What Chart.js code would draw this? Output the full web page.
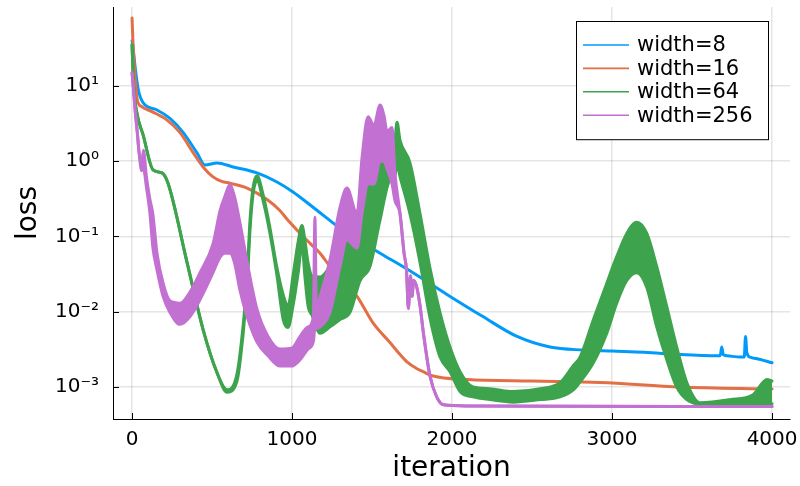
<!DOCTYPE html>
<html>
<head>
<meta charset="utf-8">
<script src="https://cdn.jsdelivr.net/npm/chart.js@4.4.1/dist/chart.umd.min.js"></script>
<style>
  html, body { margin: 0; padding: 0; background: #fff; }
  #wrap { width: 800px; height: 486px; }
</style>
</head>
<body>
<div id="wrap"><canvas id="chart" width="800" height="486"></canvas></div>
<script>
const xTicks = [0, 1000, 2000, 3000, 4000]
const yTicks = [1e-3, 1e-2, 1e-1, 1, 10]
const seriesLabels = ["width=8", "width=16", "width=64", "width=256"]

// width=8
const blueIter = [0, 8, 19, 39, 71, 156, 237, 320, 406, 456, 531, 631, 781, 906, 1006, 1131, 1343, 1550, 1756, 1968, 2190, 2406, 2612, 2819, 3000, 3200, 3425, 3660, 3676, 3685, 3695, 3720, 3800, 3826, 3834, 3842, 3860, 3900, 4000]
const blueVal = [40, 30, 18, 8.9, 5.9, 4.8, 3.7, 2.4, 1.29, 0.89, 0.95, 0.84, 0.70, 0.53, 0.39, 0.245, 0.11, 0.06, 0.033, 0.017, 0.0087, 0.0047, 0.0034, 0.0031, 0.0030, 0.0029, 0.0027, 0.0026, 0.0026, 0.0034, 0.0027, 0.0026, 0.0025, 0.0025, 0.0047, 0.0029, 0.0025, 0.0024, 0.0021]

// width=16
const redIter = [0, 8, 19, 33, 61, 131, 217, 300, 383, 444, 506, 560, 612, 719, 844, 925, 969, 1093, 1175, 1237, 1406, 1506, 1612, 1675, 1718, 1781, 1819, 1881, 2094, 2500, 2925, 3425, 4000]
const redVal = [80, 30, 13, 6.5, 5.3, 4.5, 3.55, 2.4, 1.29, 0.84, 0.62, 0.54, 0.51, 0.44, 0.31, 0.22, 0.17, 0.089, 0.06, 0.04, 0.016, 0.0071, 0.0039, 0.0027, 0.00216, 0.00175, 0.0016, 0.0014, 0.00126, 0.0012, 0.00115, 0.0010, 0.00094]

// width=64, upper and lower edge of the oscillating band
const greenIter = [0, 10, 30, 70, 131, 187, 225, 344, 444, 531, 594, 656, 694, 719, 737, 756, 781, 819, 862, 906, 944, 975, 1006, 1040, 1062, 1080, 1100, 1125, 1175, 1237, 1300, 1362, 1425, 1487, 1550, 1612, 1640, 1656, 1675, 1737, 1800, 1862, 1925, 1987, 2050, 2131, 2237, 2381, 2550, 2675, 2756, 2800, 2883, 2967, 3029, 3092, 3154, 3217, 3279, 3342, 3404, 3467, 3550, 3737, 3881, 3968, 4000]
const greenHi = [35, 10, 4.4, 2.2, 0.77, 0.70, 0.51, 0.045, 0.0058, 0.00155, 0.00092, 0.0015, 0.0065, 0.028, 0.16, 0.44, 0.64, 0.36, 0.13, 0.038, 0.017, 0.012, 0.03, 0.09, 0.14, 0.09, 0.045, 0.03, 0.029, 0.04, 0.072, 0.166, 0.245, 0.56, 0.95, 1.14, 1.6, 3.3, 1.9, 0.95, 0.2, 0.038, 0.0097, 0.0034, 0.0016, 0.001, 0.00095, 0.00087, 0.00095, 0.00114, 0.0019, 0.0025, 0.0078, 0.024, 0.054, 0.11, 0.155, 0.11, 0.04, 0.0117, 0.0034, 0.00115, 0.00062, 0.00068, 0.00079, 0.00126, 0.0012]
const greenLo = [35, 10, 4.4, 2.2, 0.77, 0.70, 0.51, 0.045, 0.0058, 0.00155, 0.00085, 0.0012, 0.005, 0.022, 0.12, 0.36, 0.55, 0.3, 0.11, 0.03, 0.008, 0.0062, 0.012, 0.035, 0.08, 0.03, 0.012, 0.009, 0.0052, 0.0063, 0.0079, 0.0098, 0.026, 0.04, 0.166, 0.56, 0.6, 0.9, 0.62, 0.2, 0.045, 0.0083, 0.0025, 0.0016, 0.00087, 0.00074, 0.00068, 0.00063, 0.00068, 0.00074, 0.00091, 0.00117, 0.0021, 0.0052, 0.013, 0.026, 0.033, 0.021, 0.0063, 0.0023, 0.001, 0.00068, 0.00058, 0.00055, 0.00055, 0.00057, 0.0006]

// width=256, upper and lower edge
const purpleIter = [0, 8, 19, 33, 44, 60, 71, 90, 112, 130, 156, 194, 237, 300, 360, 425, 506, 550, 580, 612, 640, 675, 720, 780, 850, 925, 1000, 1050, 1100, 1133, 1143, 1152, 1175, 1237, 1300, 1343, 1406, 1437, 1475, 1512, 1550, 1575, 1593, 1625, 1643, 1675, 1700, 1715, 1727, 1740, 1750, 1760, 1780, 1800, 1821, 1862, 1904, 1946, 2100, 4000]
const purpleHi = [15, 9.7, 4.8, 2.4, 1.3, 0.9, 1.4, 0.62, 0.31, 0.2, 0.06, 0.024, 0.014, 0.013, 0.018, 0.033, 0.08, 0.22, 0.34, 0.49, 0.34, 0.15, 0.045, 0.011, 0.0047, 0.0032, 0.0033, 0.0047, 0.0063, 0.0085, 0.18, 0.012, 0.016, 0.049, 0.245, 0.44, 0.2, 1.1, 3.9, 3.0, 5.6, 4.0, 2.5, 2.8, 0.7, 0.2, 0.06, 0.036, 0.011, 0.03, 0.016, 0.026, 0.021, 0.012, 0.0052, 0.0014, 0.00074, 0.00058, 0.00056, 0.00055]
const purpleLo = [15, 9.7, 4.8, 2.4, 1.3, 0.75, 0.8, 0.45, 0.2, 0.072, 0.036, 0.016, 0.0098, 0.0068, 0.0085, 0.0145, 0.033, 0.053, 0.06, 0.06, 0.045, 0.019, 0.0085, 0.004, 0.0026, 0.0019, 0.0019, 0.0023, 0.0032, 0.004, 0.006, 0.006, 0.0063, 0.0098, 0.04, 0.09, 0.07, 0.2, 0.5, 0.5, 1.0, 1.0, 0.8, 0.5, 0.3, 0.2, 0.06, 0.036, 0.011, 0.03, 0.016, 0.026, 0.021, 0.012, 0.0052, 0.0014, 0.00074, 0.00058, 0.00056, 0.00055]

const palette = ["#009af9", "#e26f46", "#3da44d", "#c271d2"]
const fontFamily = "'DejaVu Sans', sans-serif"

const points = (xs, ys) => xs.map((x, i) => ({ x: x, y: ys[i] }))

const supDigits = { "-": "\u207b", "0": "\u2070", "1": "\u00b9", "2": "\u00b2", "3": "\u00b3" }
const powLabel = v => "10" + String(Math.round(Math.log10(v))).split("").map(c => supDigits[c]).join("")

// small ticks pointing into the plot, like the reference
const innerTicks = {
  id: "innerTicks",
  beforeDatasetsDraw(chart) {
    const { ctx, chartArea: a, scales: { x, y } } = chart
    ctx.save()
    ctx.strokeStyle = "#000"
    ctx.lineWidth = 1
    ctx.beginPath()
    xTicks.forEach(v => {
      const px = Math.round(x.getPixelForValue(v)) + 0.5
      ctx.moveTo(px, a.bottom)
      ctx.lineTo(px, a.bottom - 6)
    })
    yTicks.forEach(v => {
      const py = Math.round(y.getPixelForValue(v)) + 0.5
      ctx.moveTo(a.left, py)
      ctx.lineTo(a.left + 6, py)
    })
    ctx.stroke()
    ctx.restore()
  }
}

// boxed legend in the top right corner
const boxLegend = {
  id: "boxLegend",
  afterDraw(chart) {
    const { ctx, chartArea: a } = chart
    const items = chart.data.datasets.filter(d => d.label)
    const left = a.right - 214
    const top = a.top + 14
    const w = 192
    const rowH = 23.4
    const h = 24 * 2 + rowH * (items.length - 1)
    ctx.save()
    ctx.fillStyle = "#fff"
    ctx.fillRect(left, top, w, h)
    ctx.strokeStyle = "#000"
    ctx.lineWidth = 1
    ctx.strokeRect(Math.round(left) + 0.5, Math.round(top) + 0.5, w, h)
    ctx.font = "21px " + fontFamily
    ctx.textBaseline = "middle"
    ctx.textAlign = "left"
    items.forEach((d, i) => {
      const cy = top + 24 + i * rowH
      ctx.strokeStyle = d.borderColor
      ctx.lineWidth = 1.6
      ctx.beginPath()
      ctx.moveTo(left + 7, cy)
      ctx.lineTo(left + 53, cy)
      ctx.stroke()
      ctx.fillStyle = "#000"
      ctx.fillText(d.label, left + 61, cy + 1)
    })
    ctx.restore()
  }
}

new Chart(document.getElementById("chart"), {
  type: "line",
  data: {
    datasets: [
      { label: seriesLabels[0], data: points(blueIter, blueVal), borderColor: palette[0], order: 4 },
      { label: seriesLabels[1], data: points(redIter, redVal), borderColor: palette[1], order: 3 },
      { label: seriesLabels[2], data: points(greenIter, greenHi), borderColor: palette[2], order: 2 },
      { label: "", data: points(greenIter, greenLo), borderColor: palette[2], backgroundColor: palette[2], fill: "-1", order: 2 },
      { label: seriesLabels[3], data: points(purpleIter, purpleHi), borderColor: palette[3], order: 1 },
      { label: "", data: points(purpleIter, purpleLo), borderColor: palette[3], backgroundColor: palette[3], fill: "-1", order: 1 }
    ]
  },
  options: {
    responsive: false,
    animation: false,
    devicePixelRatio: 1,
    layout: { padding: { top: 7, right: 10, left: 0, bottom: 0 } },
    elements: {
      point: { radius: 0 },
      line: { borderWidth: 3, cubicInterpolationMode: "monotone", borderCapStyle: "round", borderJoinStyle: "round", fill: false }
    },
    plugins: {
      legend: { display: false },
      tooltip: { enabled: false }
    },
    scales: {
      x: {
        type: "linear",
        min: -119,
        max: 4112,
        afterBuildTicks: s => { s.ticks = xTicks.map(v => ({ value: v })) },
        afterFit: s => {
          s.height = 67
          s.paddingLeft = 0
          s.paddingRight = 0
        },
        ticks: { color: "#000", font: { family: fontFamily, size: 20 }, padding: 9, maxRotation: 0, callback: v => String(v) },
        grid: { color: "rgba(0,0,0,0.1)", lineWidth: 1.5, drawTicks: false },
        border: { display: true, color: "#000", width: 1 },
        title: { display: true, text: "iteration", color: "#000", font: { family: fontFamily, size: 28 }, padding: { top: 0, bottom: 0 } }
      },
      y: {
        type: "logarithmic",
        min: 3.76e-4,
        max: 112,
        afterBuildTicks: s => { s.ticks = yTicks.map(v => ({ value: v })) },
        afterFit: s => {
          s.width = 113
          s.paddingTop = 0
          s.paddingBottom = 0
        },
        ticks: { color: "#000", font: { family: fontFamily, size: 20 }, padding: 14, callback: v => powLabel(v) },
        grid: { color: "rgba(0,0,0,0.1)", lineWidth: 1.5, drawTicks: false },
        border: { display: true, color: "#000", width: 1 },
        title: { display: true, text: "loss", color: "#000", font: { family: fontFamily, size: 28 }, padding: { top: 12, bottom: 0 } }
      }
    }
  },
  plugins: [innerTicks, boxLegend]
})
</script>
</body>
</html>
